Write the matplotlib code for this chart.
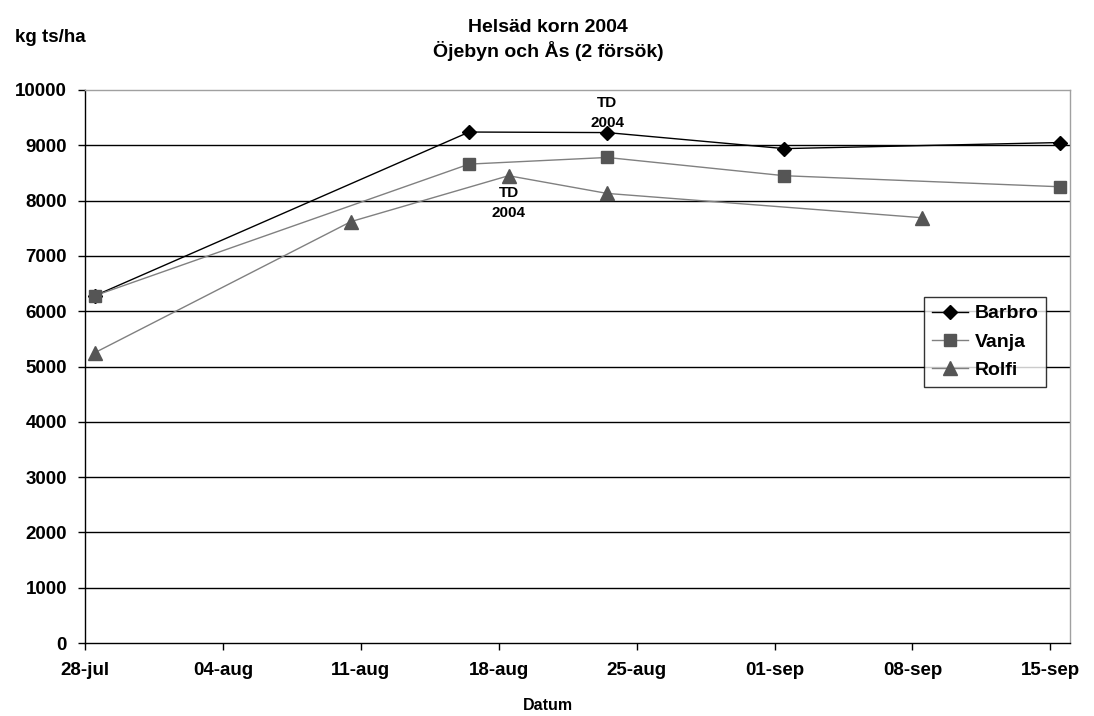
import matplotlib
matplotlib.use("Agg")
import matplotlib.pyplot as plt
import matplotlib.dates as mdates
import pandas as pd

# ---- data ----
barbro_dates = ["2004-07-28", "2004-08-16", "2004-08-23", "2004-09-01", "2004-09-15"]
barbro_vals = [6280, 9240, 9230, 8940, 9050]
vanja_dates = ["2004-07-28", "2004-08-16", "2004-08-23", "2004-09-01", "2004-09-15"]
vanja_vals = [6280, 8660, 8780, 8450, 8250]
rolfi_dates = ["2004-07-28", "2004-08-10", "2004-08-18", "2004-08-23", "2004-09-08"]
rolfi_vals = [5250, 7620, 8450, 8130, 7690]

tick_dates = ["2004-07-28", "2004-08-04", "2004-08-11", "2004-08-18",
              "2004-08-25", "2004-09-01", "2004-09-08", "2004-09-15"]
tick_labels = ["28-jul", "04-aug", "11-aug", "18-aug", "25-aug", "01-sep", "08-sep", "15-sep"]
y_ticks = list(range(0, 10001, 1000))

title = "Helsäd korn 2004\nÖjebyn och Ås (2 försök)"
ylabel = "kg ts/ha"
xlabel = "Datum"
note = "TD\n2004"

plt.rcParams['font.family'] = ['Liberation Sans', 'DejaVu Sans']

def to_num(ds):
    return [mdates.date2num(pd.Timestamp(d) + pd.Timedelta(hours=12)) for d in ds]

fig = plt.figure(figsize=(10.94, 7.16), dpi=100)
ax = fig.add_axes([85/1094, 1-643/716, (1070-85)/1094, (643-90)/716])

for y in y_ticks[1:-1]:
    ax.axhline(y, color='black', lw=1.0, zorder=1)

ax.plot(to_num(barbro_dates), barbro_vals, color='black', lw=1.0, marker='D',
        markersize=7, markerfacecolor='black', markeredgecolor='black', label='Barbro', zorder=3)
ax.plot(to_num(vanja_dates), vanja_vals, color='#808080', lw=1.0, marker='s',
        markersize=8.5, markerfacecolor='#555555', markeredgecolor='#555555', label='Vanja', zorder=4)
ax.plot(to_num(rolfi_dates), rolfi_vals, color='#808080', lw=1.0, marker='^',
        markersize=9.5, markerfacecolor='#555555', markeredgecolor='#555555', label='Rolfi', zorder=3)

ax.set_xlim(mdates.date2num(pd.Timestamp("2004-07-28")), mdates.date2num(pd.Timestamp("2004-09-16")))
ax.set_ylim(0, 10000)
ax.set_xticks([mdates.date2num(pd.Timestamp(d)) for d in tick_dates])
ax.set_xticklabels(tick_labels, fontsize=13.5, fontweight='bold')
ax.set_yticks(y_ticks)
ax.set_yticklabels([str(v) for v in y_ticks], fontsize=13.5, fontweight='bold')
ax.tick_params(axis='both', direction='out', length=5, width=1, color='black')
ax.tick_params(axis='x', pad=9)
ax.tick_params(axis='y', pad=8)

for s in ['left', 'bottom']:
    ax.spines[s].set_color('black')
    ax.spines[s].set_linewidth(1.0)
for s in ['top', 'right']:
    ax.spines[s].set_color('#a0a0a0')
    ax.spines[s].set_linewidth(1.0)

# annotations
ax.text(mdates.date2num(pd.Timestamp("2004-08-23") + pd.Timedelta(hours=12)), 9280, note,
        ha='center', va='bottom', fontsize=11, fontweight='bold', linespacing=1.5, zorder=5)
ax.text(mdates.date2num(pd.Timestamp("2004-08-18") + pd.Timedelta(hours=12)), 8260, note,
        ha='center', va='top', fontsize=11, fontweight='bold', linespacing=1.5, zorder=5)

leg = ax.legend(loc='upper left', bbox_to_anchor=((924-85)/985, (643-297)/553),
                fontsize=14, frameon=True, fancybox=False, edgecolor='black',
                borderpad=0.4, handlelength=1.85, handletextpad=0.35, labelspacing=0.55,
                borderaxespad=0)
leg.get_frame().set_linewidth(1.0)
for t in leg.get_texts():
    t.set_fontweight('bold')

fig.text(548/1094, 1-40/716, title, ha='center', va='center', fontsize=14,
         fontweight='bold', linespacing=1.35)
fig.text(15/1094, 1-38/716, ylabel, ha='left', va='center', fontsize=13.5, fontweight='bold')
fig.text(548/1094, 1-706/716, xlabel, ha='center', va='center', fontsize=11.5, fontweight='bold')

fig.savefig("out.png", dpi=100)
